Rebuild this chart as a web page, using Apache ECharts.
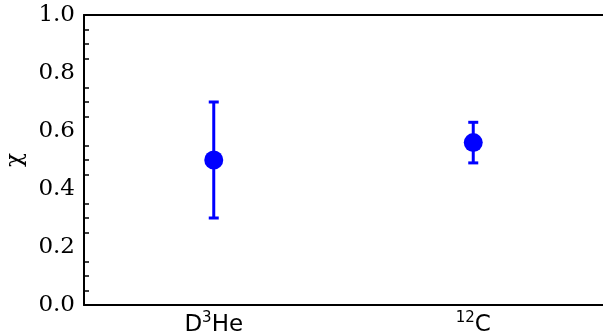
<!DOCTYPE html>
<html>
<head>
<meta charset="utf-8">
<script src="https://cdn.jsdelivr.net/npm/echarts@6/dist/echarts.min.js"></script>
<style>html,body{margin:0;padding:0;background:#fff}#c{width:603px;height:334px}</style>
</head>
<body>
<div id="c"></div>
<script>
const categories = ['D3He', '12C'];
const values = [0.50, 0.56];
const errLow = [0.30, 0.49];
const errHigh = [0.70, 0.63];
const yTicks = [0, 0.2, 0.4, 0.6, 0.8, 1.0];

const chart = echarts.init(document.getElementById('c'), null, {renderer: 'canvas'});
const blue = '#0000ff';
const labelFmt = function (v) {
  if (v === 'D3He') return '{n|D}{s|3}{n|He}';
  if (v === '12C') return '{s|12}{n|C}';
  return v;
};
chart.setOption({
  animation: false,
  grid: {left: 84, right: 0, top: 15, bottom: 29, containLabel: false, outerBoundsMode: 'none'},
  xAxis: [{
    type: 'category', data: categories, boundaryGap: true,
    axisLine: {lineStyle: {color: '#000', width: 2}},
    axisTick: {inside: true, alignWithLabel: true, length: 7, lineStyle: {color: '#000', width: 2}},
    axisLabel: {
      formatter: labelFmt, margin: 6, interval: 0,
      rich: {
        n: {fontFamily: 'DejaVu Sans', fontSize: 23, color: '#000', verticalAlign: 'bottom', lineHeight: 26},
        s: {fontFamily: 'DejaVu Sans', fontSize: 15, color: '#000', verticalAlign: 'top', lineHeight: 26, padding: [0, 0, 9, 0]}
      }
    },
    splitLine: {show: false}
  }, {
    type: 'category', data: categories, position: 'top',
    axisLine: {lineStyle: {color: '#000', width: 2}},
    axisTick: {show: false}, axisLabel: {show: false}
  }],
  yAxis: {
    type: 'value', min: 0, max: 1.0, interval: 0.2,
    name: 'χ', nameLocation: 'middle', nameGap: 57, nameRotate: 90,
    nameTextStyle: {fontFamily: 'DejaVu Serif', fontSize: 23, color: '#000'},
    axisLine: {show: true, lineStyle: {color: '#000', width: 2}},
    axisTick: {inside: true, length: 9, lineStyle: {color: '#000', width: 2}},
    minorTick: {show: true, splitNumber: 4, length: 5, lineStyle: {color: '#000', width: 1.5}},
    splitLine: {show: false},
    axisLabel: {
      margin: 9, fontFamily: 'DejaVu Serif', fontSize: 23, color: '#000',
      formatter: function (v) { return v.toFixed(1); }
    }
  },
  series: [{
    type: 'custom',
    data: categories.map((c, i) => [i, errLow[i], errHigh[i]]),
    renderItem: function (params, api) {
      const lo = api.coord([api.value(0), api.value(1)]);
      const hi = api.coord([api.value(0), api.value(2)]);
      const cw = 5;
      const st = {stroke: blue, lineWidth: 3};
      return {type: 'group', children: [
        {type: 'line', shape: {x1: lo[0], y1: lo[1], x2: hi[0], y2: hi[1]}, style: st},
        {type: 'line', shape: {x1: lo[0] - cw, y1: lo[1], x2: lo[0] + cw, y2: lo[1]}, style: st},
        {type: 'line', shape: {x1: hi[0] - cw, y1: hi[1], x2: hi[0] + cw, y2: hi[1]}, style: st}
      ]};
    },
    z: 2
  }, {
    type: 'scatter',
    data: categories.map((c, i) => [i, values[i]]),
    symbol: 'circle', symbolSize: 19,
    itemStyle: {color: blue, opacity: 1},
    z: 3
  }]
});
</script>
</body>
</html>
